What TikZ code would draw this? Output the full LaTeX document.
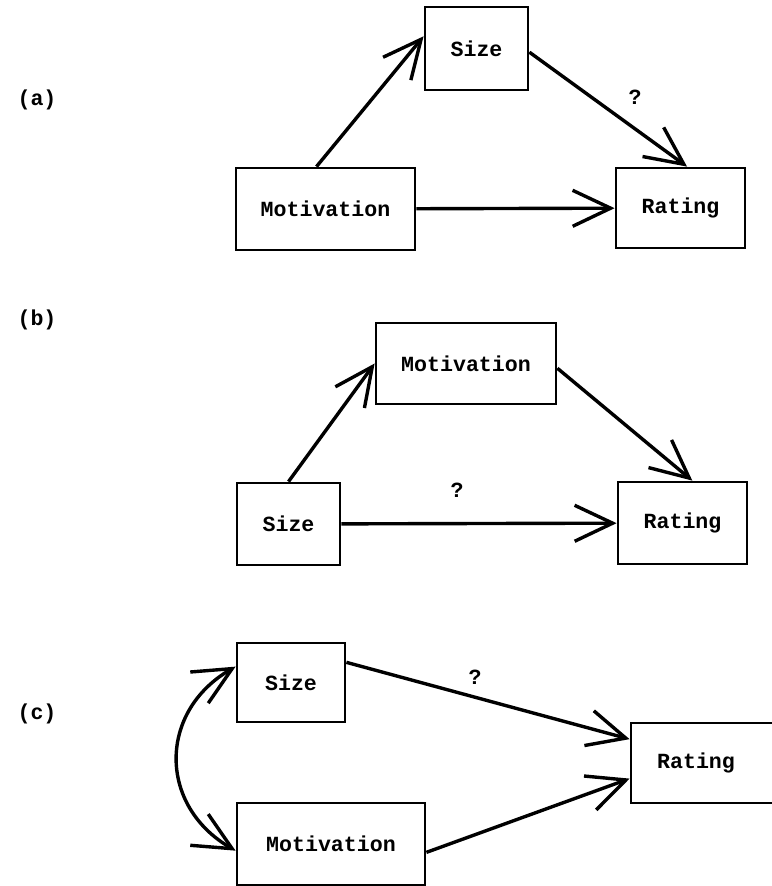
\documentclass[tikz,border=0pt]{standalone}
\usepackage{fontspec}
\setmonofont{Liberation Mono}
\usetikzlibrary{arrows.meta}

\begin{document}
\begin{tikzpicture}[x=0.5pt, y=-0.5pt,
    every node/.style={font=\ttfamily\bfseries\fontsize{10.8}{12}\selectfont},
    box/.style={draw, line width=1.4pt, inner sep=0pt},
    barb/.tip={Straight Barb[length=19pt, width=18pt]},
    arr/.style={line width=1.7pt, -barb}]
    \useasboundingbox (0,0) rectangle (771,886);

    % (a)
    \node (la) at (37,100) {(a)};
    \node[box, minimum width=51.5pt, minimum height=41.5pt] (sizeA) at (476.5,48.5) {Size};
    \node[box, minimum width=89.5pt, minimum height=41pt] (motA) at (325.5,209) {Motivation};
    \node[box, minimum width=64.5pt, minimum height=40pt] (ratA) at (680.5,208) {Rating};
    \node (qa) at (635,97) {?};
    \draw[arr] (motA.102) -- (sizeA.167);
    \draw[arr] (sizeA.-4) -- (ratA.81);
    \draw[arr] (motA) -- (ratA);

    % (b)
    \node (lb) at (37,320) {(b)};
    \node[box, minimum width=90pt, minimum height=40.5pt] (motB) at (466,363.5) {Motivation};
    \node[box, minimum width=51.5pt, minimum height=41pt] (sizeB) at (288.5,524) {Size};
    \node[box, minimum width=64.5pt, minimum height=41pt] (ratB) at (682.5,523) {Rating};
    \node (qb) at (457,490) {?};
    \draw[arr] (sizeB.north) -- (motB.west);
    \draw[arr] (motB.-3) -- (ratB.77);
    \draw[arr] (sizeB) -- (ratB);

    % (c)
    \node (lc) at (37,714) {(c)};
    \node[box, minimum width=54pt, minimum height=39.5pt] (sizeC) at (291,682.5) {Size};
    \node[box, minimum width=94pt, minimum height=41pt] (motC) at (331,844) {Motivation};
    \node[box, minimum width=72pt, minimum height=40pt] (ratC) at (703,763) {Rating\hspace*{7pt}};
    \node (qc) at (475,677) {?};
    \draw[arr] (sizeC.20) -- (ratC.162);
    \draw[arr] (motC.-5.5) -- (ratC.192.5);
    \draw[arr, barb-barb] (sizeC.164) to[out=210, in=150, looseness=1.25] (motC.184);
\end{tikzpicture}
\end{document}
